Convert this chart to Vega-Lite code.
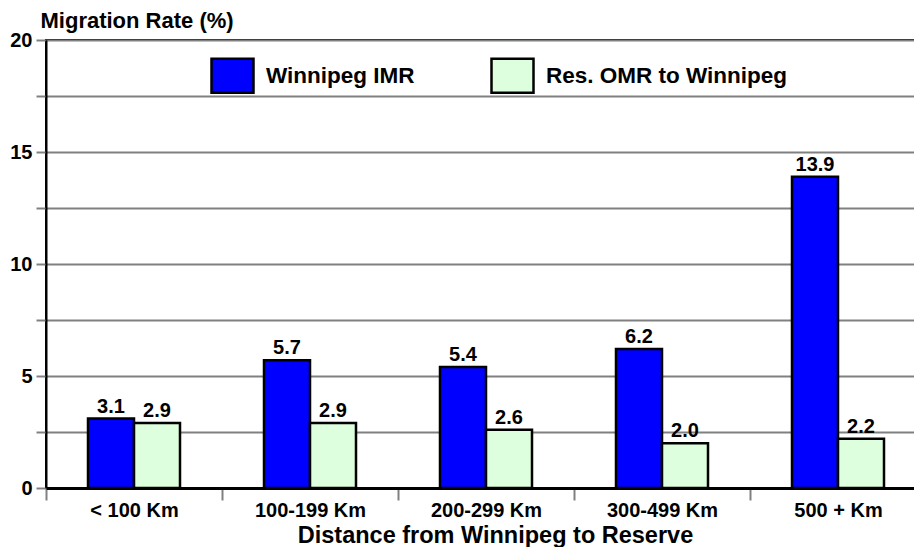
{
  "$schema": "https://vega.github.io/schema/vega-lite/v6.json",
  "autosize": "none",
  "padding": {"left": 46, "top": 40, "right": 0, "bottom": 59},
  "width": 880,
  "height": 448,
  "config": {
    "view": {"stroke": "#000", "strokeWidth": 2},
    "font": "Liberation Sans"
  },
  "data": {
    "values": [
      {"dist": "< 100 Km", "series": "Winnipeg IMR", "rate": 3.1},
      {"dist": "< 100 Km", "series": "Res. OMR to Winnipeg", "rate": 2.9},
      {"dist": "100-199 Km", "series": "Winnipeg IMR", "rate": 5.7},
      {"dist": "100-199 Km", "series": "Res. OMR to Winnipeg", "rate": 2.9},
      {"dist": "200-299 Km", "series": "Winnipeg IMR", "rate": 5.4},
      {"dist": "200-299 Km", "series": "Res. OMR to Winnipeg", "rate": 2.6},
      {"dist": "300-499 Km", "series": "Winnipeg IMR", "rate": 6.2},
      {"dist": "300-499 Km", "series": "Res. OMR to Winnipeg", "rate": 2.0},
      {"dist": "500 + Km", "series": "Winnipeg IMR", "rate": 13.9},
      {"dist": "500 + Km", "series": "Res. OMR to Winnipeg", "rate": 2.2}
    ]
  },
  "encoding": {
    "x": {
      "field": "dist", "type": "nominal", "sort": null,
      "scale": {"paddingInner": 0, "paddingOuter": 0},
      "axis": {
        "title": "Distance from Winnipeg to Reserve",
        "titleFontSize": 23.5, "titleFontWeight": "bold", "titleColor": "#000",
        "titleX": 449, "titleY": 54, "titleAnchor": "start", "titleAlign": "center", "titleBaseline": "alphabetic",
        "labelAngle": 0, "labelFontSize": 20, "labelFontWeight": "bold", "labelColor": "#000",
        "labelBaseline": "alphabetic", "labelPadding": 16,
        "tickBand": "extent", "tickColor": "#808080", "tickSize": 12, "tickWidth": 2,
        "domainColor": "#000", "domainWidth": 3
      }
    },
    "xOffset": {
      "field": "series", "type": "nominal",
      "sort": ["Winnipeg IMR", "Res. OMR to Winnipeg"],
      "scale": {"paddingInner": 0, "paddingOuter": 0.913}
    },
    "y": {
      "field": "rate", "type": "quantitative",
      "scale": {"domain": [0, 20], "nice": false},
      "axis": {
        "title": "Migration Rate (%)",
        "titleAngle": 0, "titleX": -6, "titleY": -13, "titleAlign": "left", "titleBaseline": "alphabetic",
        "titleFontSize": 22, "titleFontWeight": "bold", "titleColor": "#000",
        "values": [0, 2.5, 5, 7.5, 10, 12.5, 15, 17.5, 20],
        "labelExpr": "datum.value % 5 === 0 ? datum.label : ''",
        "labelFontSize": 20, "labelFontWeight": "bold", "labelColor": "#000", "labelPadding": 4,
        "grid": true, "gridColor": "#808080", "gridWidth": 2,
        "tickColor": "#808080", "tickSize": 10, "tickWidth": 2,
        "domainColor": "#000", "domainWidth": 2
      }
    }
  },
  "layer": [
    {
      "mark": {"type": "bar", "stroke": "#000", "strokeWidth": 2.5},
      "encoding": {
        "color": {
          "field": "series", "type": "nominal",
          "scale": {"domain": ["Winnipeg IMR", "Res. OMR to Winnipeg"], "range": ["#0000FF", "#DDFFDD"]},
          "legend": {
            "title": null, "orient": "none", "direction": "horizontal",
            "legendX": 164, "legendY": 13,
            "symbolType": "M-1,-0.81H1V0.81H-1Z", "symbolSize": 1764, "symbolStrokeColor": "#000", "symbolStrokeWidth": 2.5,
            "symbolOpacity": 1, "symbolFillOpacity": 1,
            "labelFontSize": 22.5, "labelFontWeight": "bold", "labelColor": "#000", "labelOffset": 11,
            "columnPadding": 71, "labelLimit": 400
          }
        }
      }
    },
    {
      "mark": {"type": "text", "baseline": "alphabetic", "dy": -6, "fontSize": 20, "fontWeight": "bold", "color": "#000"},
      "encoding": {
        "text": {"field": "rate", "type": "quantitative", "format": ".1f"}
      }
    }
  ]
}
